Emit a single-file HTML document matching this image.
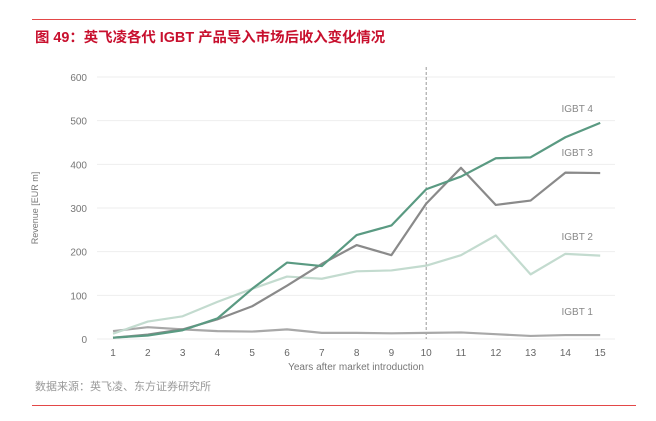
<!DOCTYPE html>
<html><head><meta charset="utf-8"><style>
body{margin:0;width:656px;height:421px;background:#fff;font-family:"Liberation Sans","Noto Sans CJK SC",sans-serif;position:relative;overflow:hidden}
.t{position:absolute;left:35px;top:26px;font-size:14.4px;font-weight:bold;color:#c8102e;white-space:nowrap}
.line{position:absolute;left:32px;width:604px;height:1px;background:#e34848}
.src{position:absolute;left:35px;top:378px;font-size:11px;color:#999}
svg{position:absolute;left:0;top:0}
</style></head><body>
<div class="line" style="top:19px"></div>
<div class="t">图 49：英飞凌各代 IGBT 产品导入市场后收入变化情况</div>
<svg id="c" width="656" height="421"></svg>
<div class="src">数据来源：英飞凌、东方证券研究所</div>
<div class="line" style="top:405px"></div>
<script>
const years=[1,2,3,4,5,6,7,8,9,10,11,12,13,14,15];
const yTicks=[0,100,200,300,400,500,600];
const igbt1=[18,27,22,18,17,22,14,14,13,14,15,11,7,9,9];
const igbt2=[12,40,52,85,115,143,138,155,157,168,192,237,148,195,191];
const igbt3=[3,10,22,45,75,122,172,215,192,310,392,307,317,381,380];
const igbt4=[3,8,20,47,115,175,167,238,260,343,372,414,416,462,495];
const series=[{n:'IGBT 1',v:igbt1,c:'#a8a8a8',ly:315},{n:'IGBT 2',v:igbt2,c:'#c3dbcf',ly:240},{n:'IGBT 3',v:igbt3,c:'#8a8a8a',ly:156},{n:'IGBT 4',v:igbt4,c:'#5a9a82',ly:112}];
const x=v=>113+(v-1)*34.8, y=v=>339-v*(262/600);
const s=document.getElementById('c'),NS='http://www.w3.org/2000/svg';
function el(t,a){const e=document.createElementNS(NS,t);for(const k in a)e.setAttribute(k,a[k]);s.appendChild(e);return e;}
yTicks.forEach(t=>{
 const g=el('line',{x1:97,x2:615,y1:y(t),y2:y(t),stroke:'#eeeeee'});
 
 
 const l=el('text',{x:87,y:y(t)+4,'text-anchor':'end','font-size':10,fill:'#777'});l.textContent=t;
 
 
});
years.forEach(t=>{
 const l=el('text',{x:x(t),y:356,'text-anchor':'middle','font-size':10,fill:'#666'});l.textContent=t;
 
 
});
const d=el('line',{x1:x(10),x2:x(10),y1:67,y2:339,stroke:'#999','stroke-dasharray':'3,2'});


series.forEach(se=>{
 const p=el('polyline',{points:se.v.map((v,i)=>x(years[i])+','+y(v)).join(' '),fill:'none',stroke:se.c,'stroke-width':2.2,'stroke-linejoin':'round'});
 
 
 const l=el('text',{x:593,y:se.ly,'text-anchor':'end','font-size':10,fill:'#888'});l.textContent=se.n;
 
 
});
const xt=el('text',{x:356,y:370,'text-anchor':'middle','font-size':10,fill:'#777'});xt.textContent='Years after market introduction';


const yt=el('text',{x:38,y:208,'text-anchor':'middle','font-size':9,fill:'#777',transform:'rotate(-90 38 208)'});yt.textContent='Revenue [EUR m]';


</script>
</body></html>
